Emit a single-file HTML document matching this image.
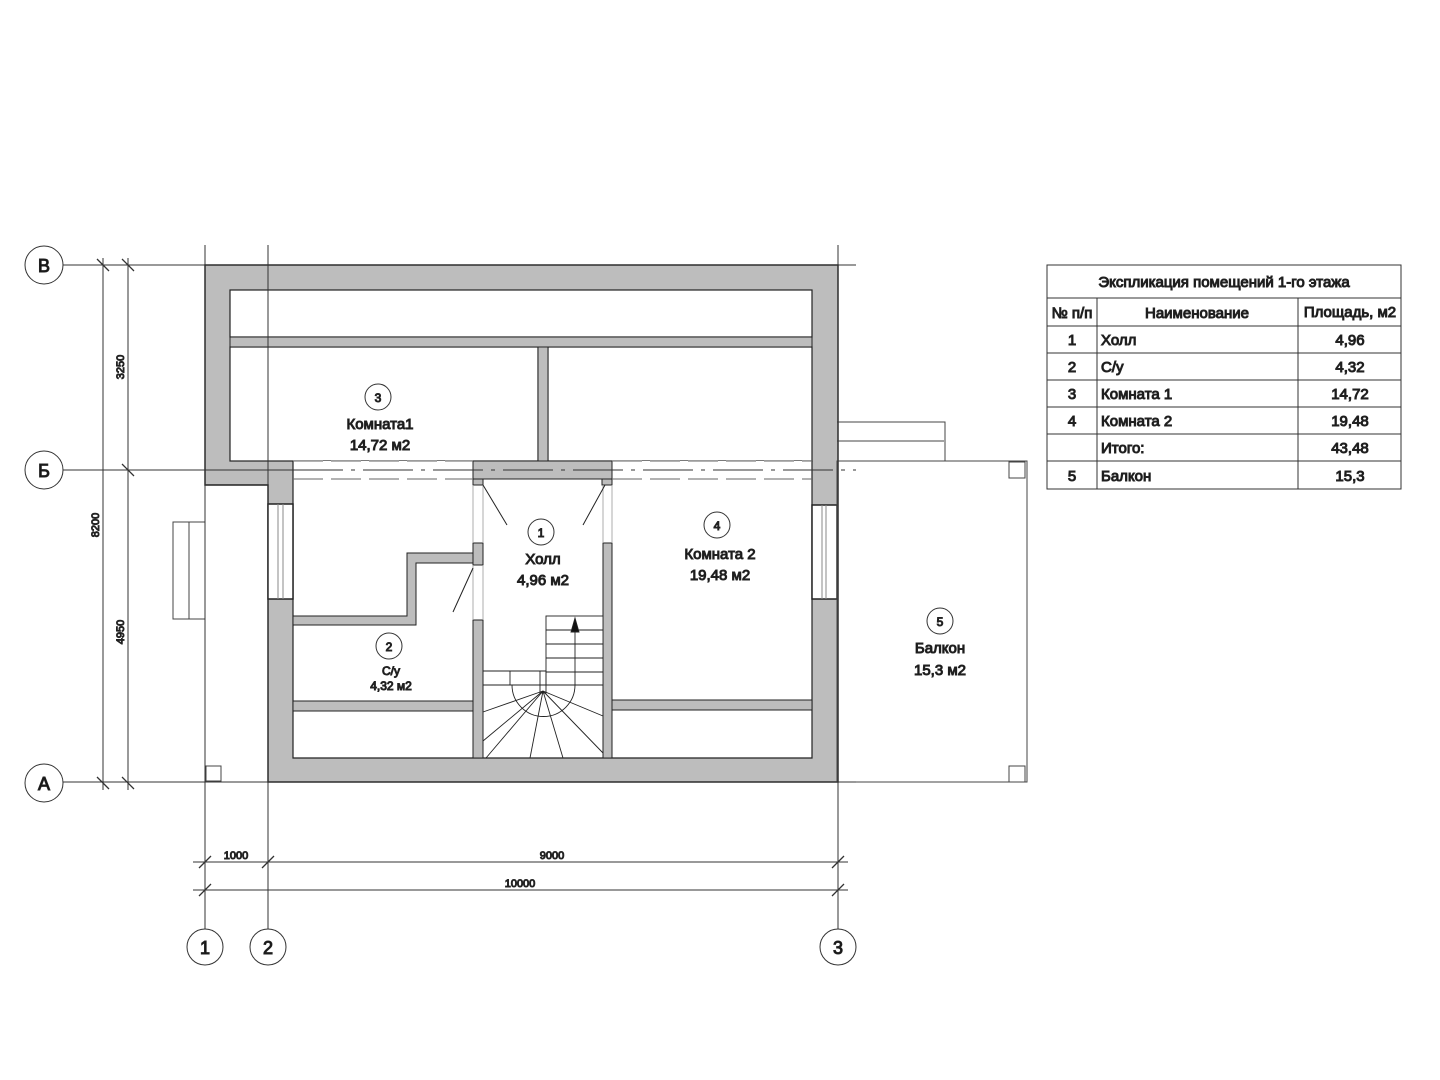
<!DOCTYPE html>
<html><head><meta charset="utf-8"><style>html,body{margin:0;padding:0;background:#fff}svg{display:block}text{font-family:"Liberation Sans","DejaVu Sans",sans-serif;fill:#111}</style></head><body>
<svg width="1440" height="1080" viewBox="0 0 1440 1080" xmlns="http://www.w3.org/2000/svg">
<g stroke="#222" stroke-width="1" fill="none">
<!-- outer wall gray -->
<path d="M205,265 H838 V782 H268 V485 H205 Z" fill="#bdbdbd" stroke="#222" stroke-width="1.5"/>
<!-- white rooms -->
<g fill="#fff" stroke="#222" stroke-width="1.2">
<rect x="230" y="290" width="582" height="47"/>
<rect x="230" y="347" width="308" height="114"/>
<rect x="548" y="347" width="264" height="114"/>
<!-- lower interior -->
<path d="M293,461 H473 V479 H612 V461 H812 V758 H293 Z" stroke="none"/>
<path d="M293,479 V758 H812 V479" />
<line x1="293" y1="461" x2="293" y2="479"/>
<line x1="812" y1="461" x2="812" y2="479"/>
</g>
<line x1="230" y1="461" x2="293" y2="461"/>
<line x1="538" y1="461" x2="473" y2="461" stroke="none"/>
<!-- hall top wall -->
<rect x="473" y="461" width="139" height="18" fill="#bdbdbd"/>
<rect x="473" y="479" width="10" height="6" fill="#bdbdbd"/>
<rect x="602" y="479" width="10" height="6" fill="#bdbdbd"/>
<!-- hall side walls -->
<rect x="473" y="543" width="10" height="22" fill="#bdbdbd"/>
<rect x="473" y="620" width="10" height="138" fill="#bdbdbd"/>
<rect x="603" y="543" width="9" height="215" fill="#bdbdbd"/>
<g stroke="#999" stroke-width="0.8"><line x1="473" y1="485" x2="473" y2="543"/><line x1="483" y1="485" x2="483" y2="543"/><line x1="603" y1="485" x2="603" y2="543"/><line x1="612" y1="485" x2="612" y2="543"/><line x1="473" y1="565" x2="473" y2="620"/><line x1="483" y1="565" x2="483" y2="620"/></g>
<!-- door swings -->
<line x1="483" y1="485" x2="507" y2="525"/><line x1="605" y1="485" x2="583" y2="525"/><line x1="473" y1="568" x2="453" y2="612"/>
<!-- C/u stepped wall -->
<path d="M473,553 H407 V616 H293 V625 H416 V563 H473 Z" fill="#bdbdbd"/>
<!-- lower partitions -->
<rect x="293" y="701" width="180" height="10" fill="#bdbdbd"/>
<rect x="612" y="700" width="200" height="10" fill="#bdbdbd"/>
<!-- partition top -->
<rect x="230" y="337" width="582" height="10" fill="#bdbdbd"/>
<rect x="538" y="347" width="10" height="114" fill="#bdbdbd"/>
<!-- windows -->
<rect x="268" y="504" width="25" height="95" fill="#fff" stroke-width="1.5"/>
<line x1="278" y1="504" x2="278" y2="599" stroke="#888"/><line x1="283" y1="504" x2="283" y2="599" stroke="#888"/>
<rect x="812" y="505" width="25" height="94" fill="#fff" stroke-width="1.5"/>
<line x1="822" y1="505" x2="822" y2="599" stroke="#888"/><line x1="826" y1="505" x2="826" y2="599" stroke="#888"/>
<!-- stairs -->
<g stroke-width="0.9">
<rect x="546" y="616" width="57" height="69" fill="#fff"/>
<line x1="546" y1="630" x2="603" y2="630"/><line x1="546" y1="644" x2="603" y2="644"/><line x1="546" y1="658" x2="603" y2="658"/><line x1="546" y1="672" x2="603" y2="672"/>
<line x1="483" y1="671" x2="546" y2="671"/><line x1="483" y1="685" x2="603" y2="685"/>
<line x1="510" y1="671" x2="510" y2="685"/>
<rect x="540" y="671" width="6" height="22"/>
<path d="M512,685 A31,31 0 0 0 575,685"/>
<line x1="575" y1="685" x2="575" y2="627"/>
<path d="M575,618 L571,632 L579,632 Z" fill="#111"/>
<g><line x1="543" y1="691" x2="483" y2="712"/><line x1="543" y1="691" x2="483" y2="741"/><line x1="543" y1="691" x2="486" y2="758"/><line x1="543" y1="691" x2="530" y2="758"/><line x1="543" y1="691" x2="563" y2="758"/><line x1="543" y1="691" x2="603" y2="753"/><line x1="543" y1="691" x2="603" y2="716"/></g>
</g>
<!-- balcony -->
<g stroke="#444" stroke-width="1">
<rect x="837" y="461" width="190" height="321"/>
<rect x="1009" y="462" width="16" height="16"/><rect x="1009" y="766" width="16" height="16"/>
<path d="M837,422 H945 V461 M837,441 H944"/>
<line x1="205" y1="485" x2="205" y2="782"/><line x1="205" y1="782" x2="268" y2="782"/>
<rect x="206" y="766" width="15" height="15"/>
<rect x="173" y="522" width="32" height="97"/><line x1="189" y1="522" x2="189" y2="619"/>
</g>
<!-- axes -->
<g stroke="#333" stroke-width="1">
<line x1="205" y1="245" x2="205" y2="930"/><line x1="268" y1="245" x2="268" y2="930"/><line x1="838" y1="245" x2="838" y2="930"/>
<line x1="63" y1="265" x2="856" y2="265"/><line x1="63" y1="782" x2="856" y2="782"/>
<line x1="63" y1="470" x2="293" y2="470"/>
<line x1="293" y1="470" x2="856" y2="470" stroke-dasharray="50,8,4,8"/>
<line x1="293" y1="461" x2="473" y2="461" stroke="#666" stroke-dasharray="30,8"/>
<line x1="293" y1="479" x2="473" y2="479" stroke="#666" stroke-dasharray="30,8"/>
<line x1="612" y1="461" x2="812" y2="461" stroke="#666" stroke-dasharray="30,8"/>
<line x1="612" y1="479" x2="812" y2="479" stroke="#666" stroke-dasharray="30,8"/>
<circle cx="44" cy="265" r="19" fill="#fff"/><circle cx="44" cy="470" r="19" fill="#fff"/><circle cx="44" cy="783" r="19" fill="#fff"/>
<circle cx="205" cy="947" r="18" fill="#fff"/><circle cx="268" cy="947" r="18" fill="#fff"/><circle cx="838" cy="947" r="18" fill="#fff"/>
<!-- dims -->
<line x1="103" y1="258" x2="103" y2="790"/><line x1="128" y1="258" x2="128" y2="790"/>
<line x1="193" y1="862" x2="848" y2="862"/><line x1="193" y1="890" x2="848" y2="890"/>
<g stroke-width="1.3"><path d="M97,259 L109,271 M122,259 L134,271 M122,464 L134,476 M97,777 L109,789 M122,777 L134,789 M199,868 L211,856 M262,868 L274,856 M832,868 L844,856 M199,896 L211,884 M832,896 L844,884"/></g>
<!-- room circles -->
<circle cx="378" cy="397" r="13"/><circle cx="541" cy="532" r="13"/><circle cx="717" cy="525" r="13"/><circle cx="389" cy="646" r="13"/><circle cx="940" cy="621" r="13"/>
<!-- table -->
<rect x="1047" y="265" width="354" height="224"/>
<path d="M1047,298 H1401 M1047,326 H1401 M1047,353 H1401 M1047,380 H1401 M1047,407 H1401 M1047,434 H1401 M1047,461 H1401 M1097,298 V489 M1298,298 V489"/>
</g>
<g font-size="18" text-anchor="middle">
<text x="44" y="272">В</text><text x="44" y="477">Б</text><text x="44" y="790">А</text>
<text x="205" y="954">1</text><text x="268" y="954">2</text><text x="838" y="954">3</text>
</g>
<g font-size="11" text-anchor="middle">
<text x="236" y="859">1000</text><text x="552" y="859">9000</text><text x="520" y="887">10000</text>
<text transform="translate(99,525) rotate(-90)">8200</text>
<text transform="translate(124,367) rotate(-90)">3250</text>
<text transform="translate(124,632) rotate(-90)">4950</text>
</g>
<g font-size="12" text-anchor="middle">
<text x="378" y="402">3</text><text x="541" y="537">1</text><text x="717" y="530">4</text><text x="389" y="651">2</text><text x="940" y="626">5</text>
</g>
<g font-size="15" text-anchor="middle">
<text x="380" y="429">Комната1</text><text x="380" y="450">14,72 м2</text>
<text x="543" y="564">Холл</text><text x="543" y="585">4,96 м2</text>
<text x="720" y="559">Комната 2</text><text x="720" y="580">19,48 м2</text>
<text x="940" y="653">Балкон</text><text x="940" y="675">15,3 м2</text>
</g>
<g font-size="12" text-anchor="middle"><text x="391" y="675">С/у</text><text x="391" y="690">4,32 м2</text></g>
<g font-size="15">
<text x="1224" y="287" text-anchor="middle">Экспликация помещений 1-го этажа</text>
<text x="1072" y="318" text-anchor="middle">№ п/п</text>
<text x="1197" y="318" text-anchor="middle">Наименование</text>
<text x="1350" y="317" text-anchor="middle">Площадь, м2</text>
<g text-anchor="middle"><text x="1072" y="345">1</text><text x="1072" y="372">2</text><text x="1072" y="399">3</text><text x="1072" y="426">4</text><text x="1072" y="481">5</text>
<text x="1350" y="345">4,96</text><text x="1350" y="372">4,32</text><text x="1350" y="399">14,72</text><text x="1350" y="426">19,48</text><text x="1350" y="453">43,48</text><text x="1350" y="481">15,3</text></g>
<text x="1101" y="345">Холл</text><text x="1101" y="372">С/у</text><text x="1101" y="399">Комната 1</text><text x="1101" y="426">Комната 2</text><text x="1101" y="453">Итого:</text><text x="1101" y="481">Балкон</text>
</g>
</svg>
</body></html>
